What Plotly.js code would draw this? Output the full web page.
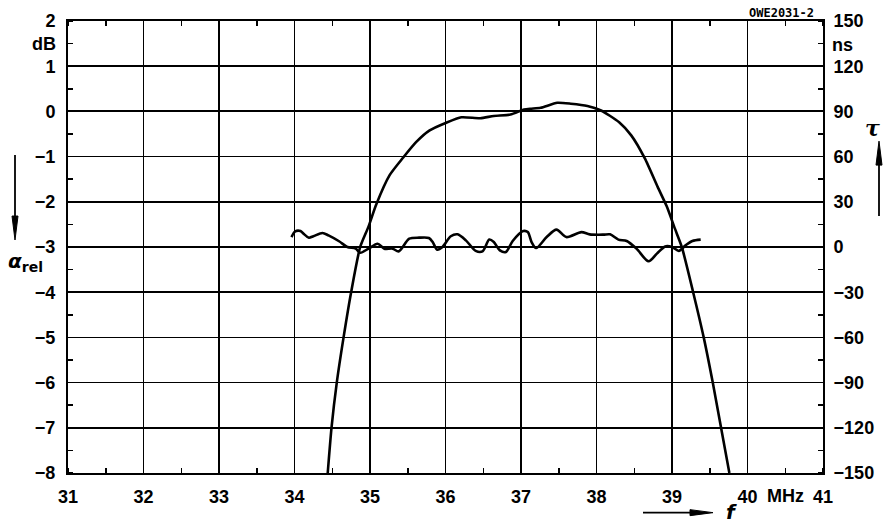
<!DOCTYPE html>
<html>
<head>
<meta charset="utf-8">
<script src="https://cdn.plot.ly/plotly-3.0.1.min.js"></script>
<style>html,body{margin:0;padding:0;background:#fff;}#chart{width:885px;height:524px;}</style>
</head>
<body>
<div id="chart"></div>
<script>
// Frequency axis ticks (MHz)
const freqTicks = [31, 32, 33, 34, 35, 36, 37, 38, 39, 40, 41];
// Attenuation axis ticks (dB)
const dbTicks = [-8, -7, -6, -5, -4, -3, -2, -1, 0, 1, 2];
// Group delay axis ticks (ns)
const nsTicks = [-150, -120, -90, -60, -30, 0, 30, 60, 90, 120, 150];

// Relative attenuation curve alpha_rel (dB) vs f (MHz)
const ampFreq = [34.44, 34.49, 34.56, 34.65, 34.75, 34.87, 34.98, 35.08, 35.26, 35.44, 35.61, 35.79, 36.01, 36.21, 36.46, 36.64, 36.86, 37.04, 37.12, 37.26, 37.48, 37.66, 37.88, 38.06, 38.30, 38.46, 38.64, 38.81, 38.93, 39.04, 39.13, 39.28, 39.42, 39.54, 39.65, 39.76];
const ampDb   = [-8, -7, -6, -5, -4, -3, -2.55, -2.07, -1.41, -1.02, -0.68, -0.42, -0.25, -0.13, -0.15, -0.10, -0.07, 0.04, 0.06, 0.08, 0.19, 0.17, 0.12, 0.02, -0.24, -0.53, -1.04, -1.67, -2.1, -2.6, -3, -4, -5, -6, -7, -8];

// Group delay curve tau (ns) vs f (MHz)
const tauFreq = [33.96, 34.01, 34.08, 34.12, 34.19, 34.25, 34.37, 34.45, 34.59, 34.70, 34.81, 34.87, 34.98, 35.10, 35.19, 35.30, 35.38, 35.52, 35.65, 35.78, 35.83, 35.89, 35.96, 36.07, 36.16, 36.27, 36.40, 36.49, 36.58, 36.64, 36.72, 36.80, 36.89, 37.03, 37.09, 37.14, 37.20, 37.34, 37.47, 37.60, 37.80, 37.91, 38.09, 38.18, 38.29, 38.40, 38.53, 38.69, 38.80, 38.91, 39.00, 39.09, 39.18, 39.27, 39.38];
const tauNs   = [6.6, 10.4, 10.6, 8.8, 6.2, 7.1, 9.3, 7.7, 3.8, 0, -1.1, -3.8, -1.1, 2.2, -1.1, -1.1, -2.9, 5.5, 6.2, 6.0, 3.3, -1.8, 0, 7.1, 8.4, 4.4, -2.6, -2.9, 4.9, 3.3, -2.2, -3.3, 4.0, 10.6, 9.9, 3.3, -0.7, 6.6, 11.5, 6.6, 9.9, 8.4, 8.2, 8.4, 4.9, 4.0, -1.1, -9.5, -4.4, 0.4, 0, -2.6, 1.1, 4.0, 4.9];

const fmt = v => (v < 0 ? '\u2212' + Math.abs(v) : String(v));
const tickFont = {family: 'Liberation Sans, Arial, sans-serif', size: 18, color: '#000', weight: 'bold'};

// plot area in pixels (for annotation placement)
const L = 68, R = 823, T = 20.7, B = 473.3;
const px = X => (X - L) / (R - L);
const py = Y => (B - Y) / (B - T);

const traces = [
  {x: ampFreq, y: ampDb, type: 'scatter', mode: 'lines', line: {color: '#000', width: 2.6, shape: 'spline', smoothing: 0.6}, xaxis: 'x', yaxis: 'y', hoverinfo: 'skip'},
  {x: tauFreq, y: tauNs, type: 'scatter', mode: 'lines', line: {color: '#000', width: 2.6, shape: 'spline', smoothing: 0.8}, xaxis: 'x', yaxis: 'y2', hoverinfo: 'skip'}
];

const minorX = {dtick: 0.5, tick0: 31, ticks: 'inside', ticklen: 5, tickwidth: 1.5, tickcolor: '#000', showgrid: false};
const minorY = {dtick: 0.5, tick0: 0, ticks: 'inside', ticklen: 5, tickwidth: 1.5, tickcolor: '#000', showgrid: false};

const layout = {
  width: 885, height: 524,
  margin: {l: L, r: 885 - R, t: T, b: 524 - B, pad: 0},
  paper_bgcolor: '#fff', plot_bgcolor: '#fff',
  showlegend: false,
  font: tickFont,
  xaxis: {
    range: [31, 41], tickmode: 'array', tickvals: freqTicks, ticktext: freqTicks.map(String),
    ticks: '', showgrid: true, gridcolor: '#000', gridwidth: 1.5, zeroline: false,
    showline: true, linecolor: '#000', linewidth: 2, mirror: 'ticks',
    minor: minorX, tickfont: tickFont, ticklabelstandoff: 6, fixedrange: true
  },
  xaxis2: {
    range: [31, 41], overlaying: 'x', side: 'top', showticklabels: false, ticks: '',
    tickmode: 'linear', tick0: 31, dtick: 1, showgrid: false, zeroline: false,
    minor: minorX, showline: false, fixedrange: true
  },
  yaxis: {
    range: [-8, 2], tickmode: 'array', tickvals: dbTicks, ticktext: dbTicks.map(fmt),
    ticks: '', showgrid: true, gridcolor: '#000', gridwidth: 1.5,
    zeroline: true, zerolinecolor: '#000', zerolinewidth: 2,
    showline: true, linecolor: '#000', linewidth: 2, mirror: 'ticks',
    minor: minorY, tickfont: tickFont, ticklabelstandoff: 7, fixedrange: true
  },
  yaxis2: {
    range: [-150, 150], overlaying: 'y', side: 'right', anchor: 'x',
    tickmode: 'array', tickvals: nsTicks, ticktext: nsTicks.map(fmt),
    ticks: '', showgrid: false, zeroline: false,
    showline: true, linecolor: '#000', linewidth: 2,
    minor: {dtick: 15, tick0: 0, ticks: 'inside', ticklen: 5, tickwidth: 1.5, tickcolor: '#000', showgrid: false},
    tickfont: tickFont, ticklabelstandoff: 5, fixedrange: true
  },
  annotations: [
    {xref: 'paper', yref: 'paper', x: px(58), y: py(43.5), xanchor: 'right', yanchor: 'middle', text: 'dB', showarrow: false, font: tickFont},
    {xref: 'paper', yref: 'paper', x: px(830), y: py(44.5), xanchor: 'left', yanchor: 'middle', text: 'ns', showarrow: false, font: tickFont},
    {xref: 'paper', yref: 'paper', x: px(785), y: py(496), xanchor: 'center', yanchor: 'middle', text: 'MHz', showarrow: false, font: tickFont},
    {xref: 'paper', yref: 'paper', x: px(781), y: py(13), xanchor: 'center', yanchor: 'middle', text: 'OWE2031-2', showarrow: false,
      font: {family: 'DejaVu Sans Mono, monospace', size: 12, color: '#000'}},
    {xref: 'paper', yref: 'paper', x: px(6), y: py(262), xanchor: 'left', yanchor: 'middle', text: '<i>α</i><sub><b>rel</b></sub>', showarrow: false,
      font: {family: 'DejaVu Sans, sans-serif', size: 20, color: '#000'}},
    {xref: 'paper', yref: 'paper', x: px(873), y: py(128), xanchor: 'center', yanchor: 'middle', text: '<i>τ</i>', showarrow: false,
      font: {family: 'DejaVu Serif, serif', size: 22, color: '#000'}},
    {xref: 'paper', yref: 'paper', x: px(731), y: py(512), xanchor: 'center', yanchor: 'middle', text: '<i><b>f</b></i>', showarrow: false,
      font: {family: 'DejaVu Sans, sans-serif', size: 20, color: '#000'}}
  ],
  shapes: [
    // left arrow (down)
    {type: 'line', xref: 'paper', yref: 'paper', x0: px(15), x1: px(15), y0: py(155), y1: py(222), line: {color: '#000', width: 1.8}},
    {type: 'path', xref: 'paper', yref: 'paper', path: `M ${px(12)} ${py(216)} L ${px(18)} ${py(216)} L ${px(15)} ${py(240)} Z`, fillcolor: '#000', line: {color: '#000', width: 1}},
    // right arrow (up)
    {type: 'line', xref: 'paper', yref: 'paper', x0: px(879), x1: px(879), y0: py(216), y1: py(160), line: {color: '#000', width: 1.8}},
    {type: 'path', xref: 'paper', yref: 'paper', path: `M ${px(876)} ${py(165)} L ${px(882)} ${py(165)} L ${px(879)} ${py(141)} Z`, fillcolor: '#000', line: {color: '#000', width: 1}},
    // bottom arrow (right)
    {type: 'line', xref: 'paper', yref: 'paper', x0: px(643), x1: px(695), y0: py(513), y1: py(513), line: {color: '#000', width: 1.8}},
    {type: 'path', xref: 'paper', yref: 'paper', path: `M ${px(690)} ${py(510)} L ${px(690)} ${py(516)} L ${px(713)} ${py(513)} Z`, fillcolor: '#000', line: {color: '#000', width: 1}}
  ]
};

Plotly.newPlot('chart', traces, layout, {displayModeBar: false, staticPlot: true});
</script>
</body>
</html>
